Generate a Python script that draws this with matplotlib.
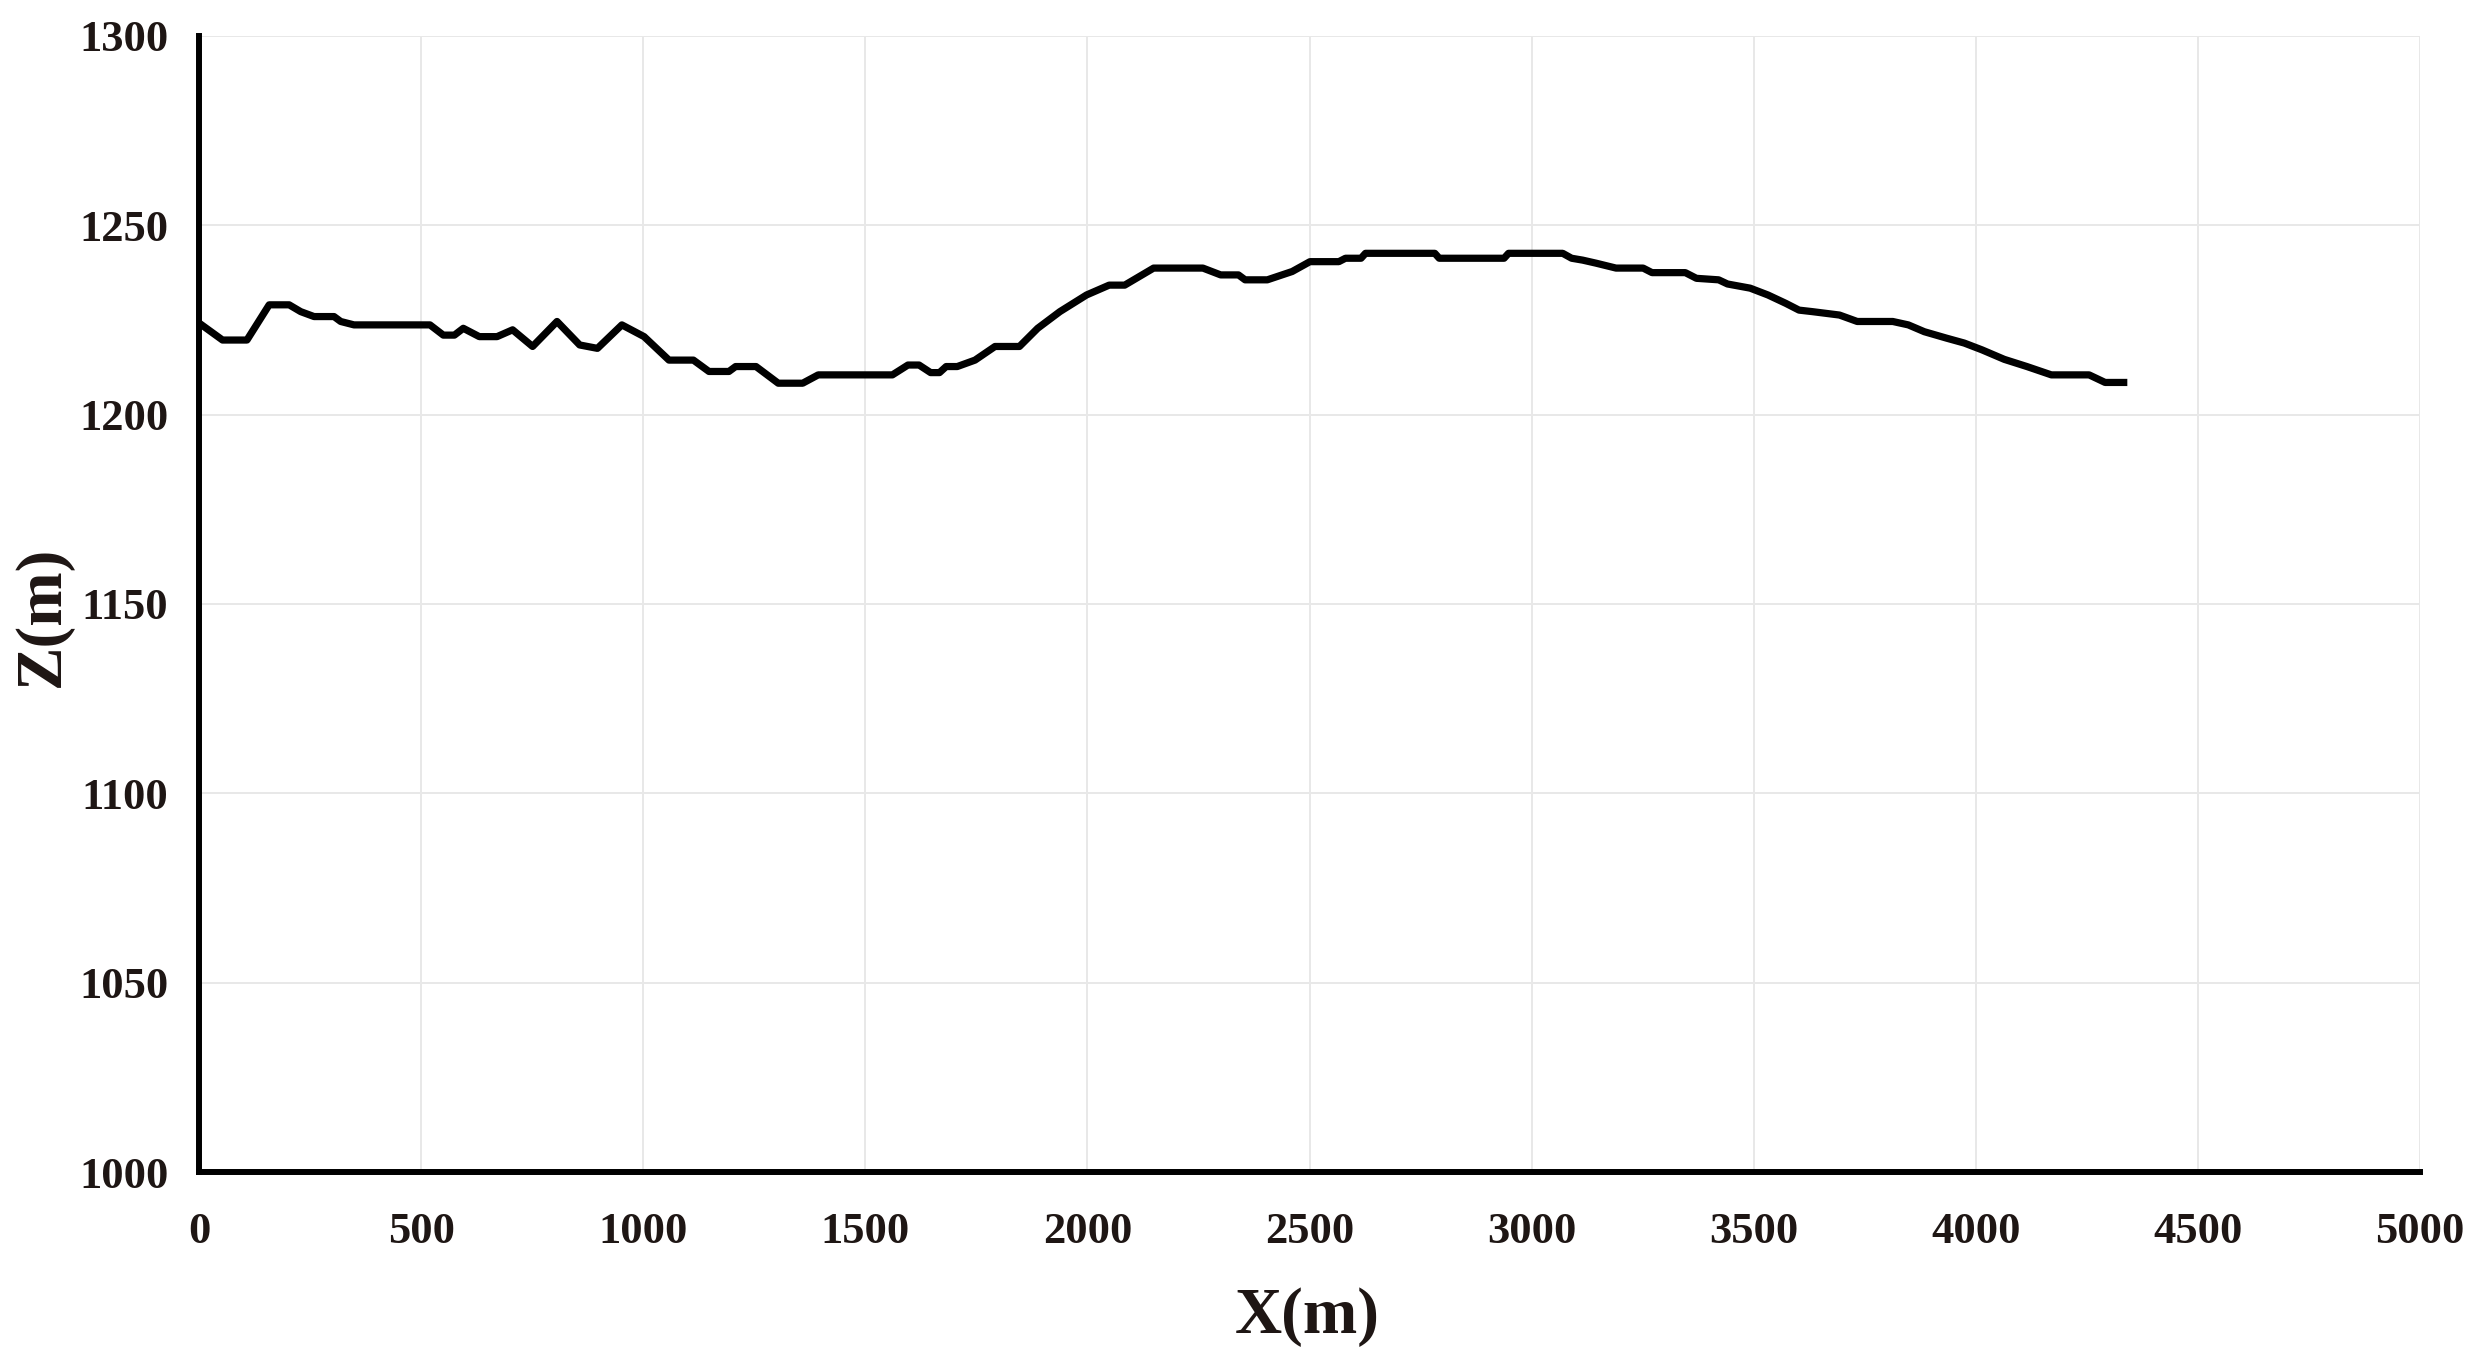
import matplotlib.pyplot as plt

# Profile distance (m) and elevation (m) read from the section
x_val = [0, 53, 108, 158, 203, 229, 259, 304, 319, 349, 520, 550, 575, 595,
         631, 671, 706, 751, 806, 857, 897, 952, 1002, 1058, 1113, 1148,
         1193, 1208, 1254, 1304, 1359, 1394, 1561, 1596, 1621, 1647, 1667,
         1682, 1707, 1747, 1792, 1847, 1888, 1938, 1998, 2049, 2084, 2149,
         2260, 2300, 2340, 2355, 2405, 2461, 2501, 2566, 2581, 2616, 2626,
         2782, 2792, 2938, 2948, 3070, 3090, 3115, 3145, 3190, 3251, 3271,
         3346, 3371, 3421, 3441, 3492, 3532, 3572, 3602, 3632, 3693, 3733,
         3813, 3848, 3884, 3934, 3974, 4014, 4064, 4115, 4170, 4255, 4291,
         4341]
z_val = [1224.2, 1219.7, 1219.7, 1229.0, 1229.0, 1227.2, 1225.9, 1225.9,
         1224.6, 1223.7, 1223.7, 1221.0, 1221.0, 1222.8, 1220.6, 1220.6,
         1222.4, 1218.0, 1224.6, 1218.4, 1217.5, 1223.7, 1220.6, 1214.4,
         1214.4, 1211.4, 1211.4, 1212.7, 1212.7, 1208.3, 1208.3, 1210.5,
         1210.5, 1213.1, 1213.1, 1211.1, 1211.1, 1212.7, 1212.7, 1214.4,
         1218.0, 1218.0, 1222.8, 1227.2, 1231.6, 1234.2, 1234.2, 1238.7,
         1238.7, 1236.9, 1236.9, 1235.6, 1235.6, 1237.8, 1240.4, 1240.4,
         1241.3, 1241.3, 1242.6, 1242.6, 1241.3, 1241.3, 1242.6, 1242.6,
         1241.3, 1240.8, 1240.0, 1238.7, 1238.7, 1237.5, 1237.5, 1236.0,
         1235.6, 1234.5, 1233.4, 1231.6, 1229.4, 1227.6, 1227.2, 1226.3,
         1224.6, 1224.6, 1223.7, 1221.9, 1220.2, 1218.9, 1217.1, 1214.6,
         1212.7, 1210.5, 1210.5, 1208.5, 1208.5]

x_ticks = [0, 500, 1000, 1500, 2000, 2500, 3000, 3500, 4000, 4500, 5000]
z_ticks = [1000, 1050, 1100, 1150, 1200, 1250, 1300]

plt.rcParams['font.family'] = ['Liberation Serif', 'DejaVu Serif']
plt.rcParams['font.weight'] = 'bold'
txt_color = "#1e1614"

fig = plt.figure(figsize=(24.75, 13.62), dpi=100)
ax = fig.add_axes([0.0804, 0.1395, 0.8974, 0.8341])

ax.plot(x_val, z_val, color="black", linewidth=5.2,
        solid_joinstyle="round", solid_capstyle="butt", zorder=3)

# Set the range for each axis.
ax.set_xlim(0, 5000)
ax.set_ylim(1000, 1300)
ax.set_xticks(x_ticks)
ax.set_yticks(z_ticks)

# Light grid, only left and bottom spines shown
ax.grid(True, color="#e8e8e8", linewidth=1.4, zorder=0)
for side in ["top", "right"]:
    ax.spines[side].set_visible(False)
for side in ["left", "bottom"]:
    ax.spines[side].set_linewidth(4.3)
    ax.spines[side].set_color("black")
    ax.spines[side].set_zorder(4)

ax.tick_params(axis="both", length=0, labelsize=32, labelcolor=txt_color)
ax.tick_params(axis="x", pad=29)
ax.tick_params(axis="y", pad=22)
for lab in ax.get_xticklabels() + ax.get_yticklabels():
    lab.set_fontweight("bold")

# Axis labels
fig.text(1307 / 2475, 1 - 1317 / 1362, "X(m)", fontsize=47,
         fontweight="bold", color=txt_color, ha="center", va="center")
fig.text(43 / 2475, 1 - 616 / 1362, "Z(m)", fontsize=47, rotation=90,
         fontweight="bold", color=txt_color, ha="center", va="center")

plt.savefig("out.png", dpi=100)
